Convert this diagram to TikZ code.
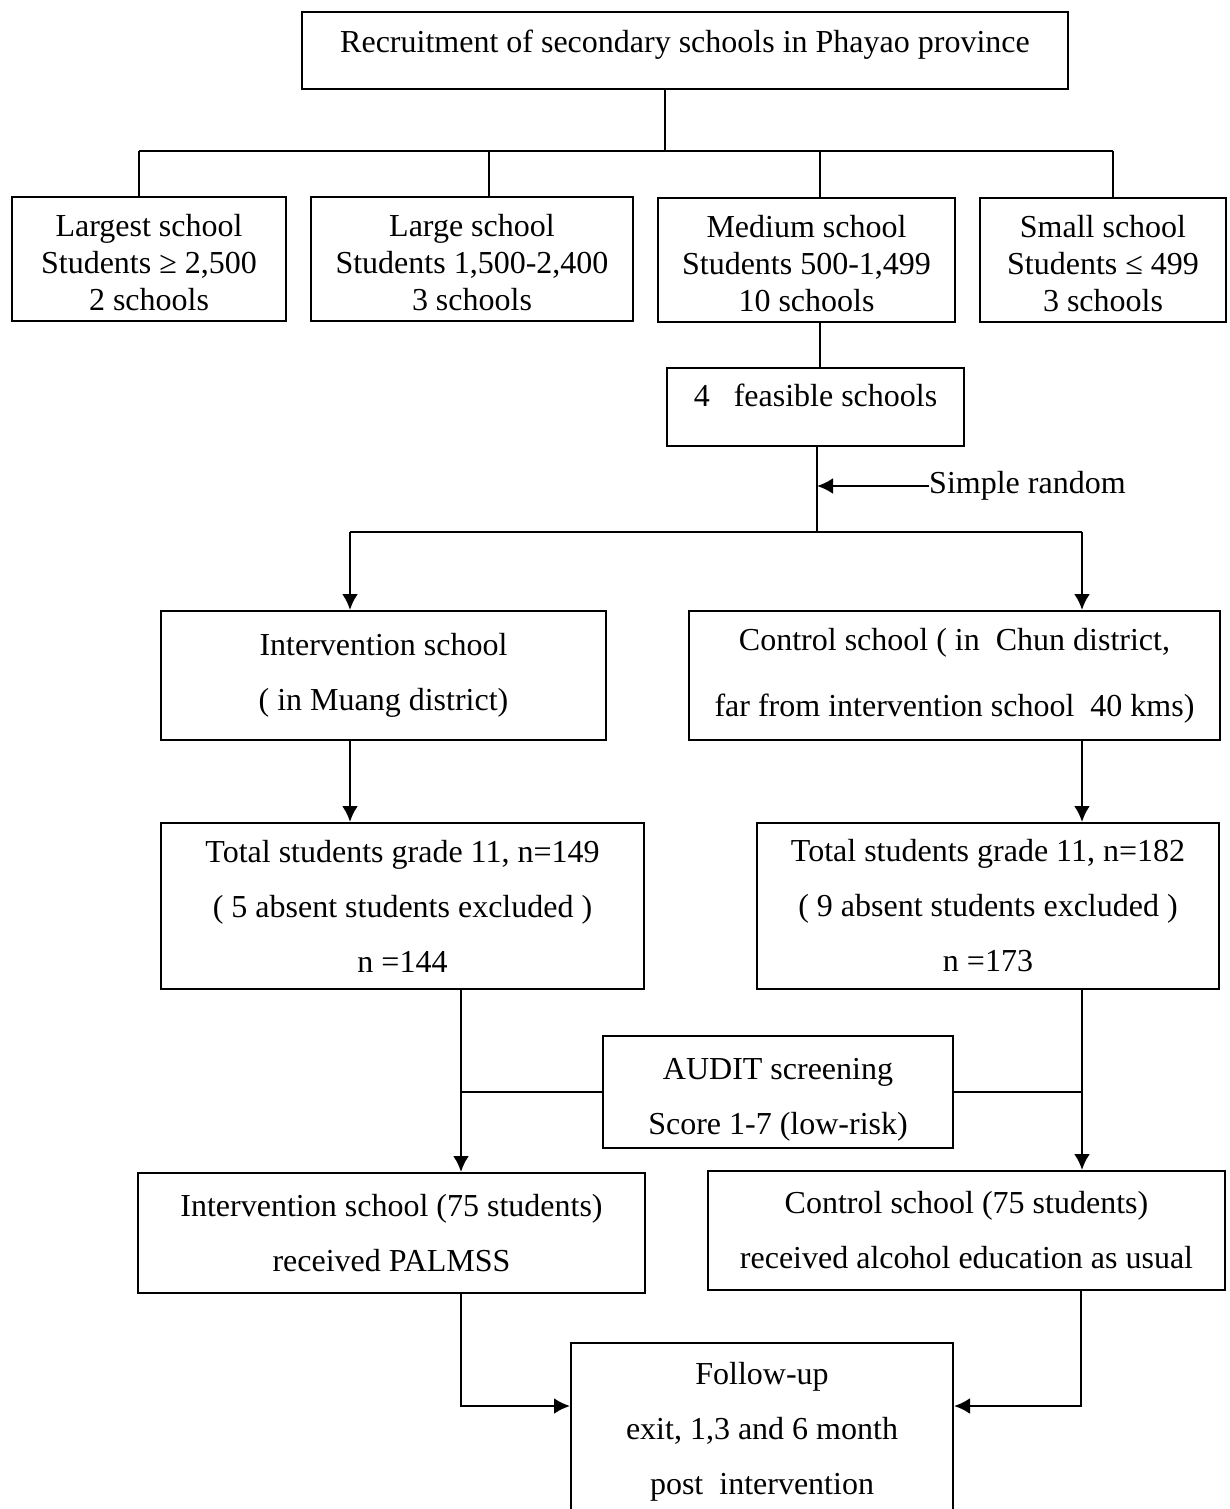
\documentclass[tikz,border=0pt]{standalone}
\usepackage{fontspec}
\setmainfont{Liberation Serif}
\usetikzlibrary{arrows.meta}
\tikzset{
  box/.style={draw,line width=2pt,align=center,inner sep=0pt,
    font=\fontsize{32}{37}\selectfont},
  boxwide/.style={box,font=\fontsize{32}{55}\selectfont},
  link/.style={line width=2.3pt},
  arrow/.style={line width=2.6pt,-{Latex[length=16pt,width=16pt]}},
}

\begin{document}
\begin{tikzpicture}[x=1pt,y=-1pt]

  \useasboundingbox (0,0) rectangle (1229,1509);
  \clip (0,0) rectangle (1229,1509);

  \def\by{151} % branch row
  \def\ry{532} % random split
  \def\fy{1406} % follow-up row

  % boxes
  \node[box,minimum width=766pt,minimum height=77pt,text depth=19pt]
    (recruit) at (685,50.5) {Recruitment of secondary schools in Phayao province};
  \node[box,minimum width=274pt,minimum height=124pt,text height=104pt]
    (largest) at (149,259) {Largest school\\Students ≥ 2,500\\2 schools};
  \node[box,minimum width=322pt,minimum height=124pt,text height=104pt]
    (large) at (472,259) {Large school\\Students 1,500-2,400\\3 schools};
  \node[box,minimum width=297pt,minimum height=124pt,text height=104pt]
    (medium) at (806.5,260) {Medium school\\Students 500-1,499\\10 schools};
  \node[box,minimum width=246pt,minimum height=124pt,text height=104pt]
    (small) at (1103,259.5) {Small school\\Students ≤ 499\\3 schools};
  \node[box,minimum width=297pt,minimum height=78pt,text depth=23pt]
    (feasible) at (815.5,407) {4~~~feasible schools};

  \node[boxwide,minimum width=445pt,minimum height=129pt]
    (inter) at (383.5,675.5) {Intervention school\\( in Muang district)};
  \node[box,font=\fontsize{32}{66}\selectfont,minimum width=531pt,minimum height=129pt]
    (control) at (954.5,675.5) {Control school ( in \ Chun district,\\far from intervention school \ 40 kms)};

  \node[boxwide,minimum width=483pt,minimum height=166pt]
    (totL) at (402.5,906) {Total students grade 11, n=149\\( 5 absent students excluded )\\n =144};
  \node[boxwide,minimum width=462pt,minimum height=166pt]
    (totR) at (988,906) {Total students grade 11, n=182\\( 9 absent students excluded )\\n =173};

  \node[boxwide,minimum width=350pt,minimum height=112pt,text height=91pt]
    (audit) at (778,1092) {AUDIT screening\\Score 1-7 (low-risk)};

  \node[boxwide,minimum width=507pt,minimum height=120pt]
    (botL) at (391.5,1233) {Intervention school (75 students)\\received PALMSS};
  \node[boxwide,minimum width=517pt,minimum height=119pt]
    (botR) at (966.5,1230.5) {Control school (75 students)\\received alcohol education as usual};

  \node[boxwide,minimum width=382pt,minimum height=177pt]
    (follow) at (762,1431.5) {Follow-up\\exit, 1,3 and 6 month\\post \ intervention};

  % tree
  \coordinate (split) at (665,\by);
  \draw[link] (recruit.south -| split) -- (split);
  \draw[link] (139,\by) -- (1113,\by);
  \foreach \n/\x in {largest/139,large/489,medium/820,small/1113}
    \draw[link] (\x,\by) -- (\n.north -| \x,0);
  \draw[link] (medium.south -| 820,0) -- (feasible.north -| 820,0);

  % random split
  \coordinate (pick) at (817,\ry);
  \coordinate (splitL) at (350,\ry);
  \coordinate (splitR) at (1082,\ry);
  \draw[link] (feasible.south -| pick) -- (pick);
  \draw[arrow,-] (splitL) -- (splitR);
  \node[font=\fontsize{32}{37}\selectfont,anchor=west,inner sep=0pt]
    (random) at (929,486) {Simple random};
  \draw[arrow] (random.west) -- (pick |- random.west);

  % arrows
  \draw[arrow] (splitL) -- (splitL |- inter.north);
  \draw[arrow] (splitR) -- (splitR |- control.north);
  \draw[arrow] (inter.south -| splitL) -- (totL.north -| splitL);
  \draw[arrow] (control.south -| splitR) -- (totR.north -| splitR);
  \draw[arrow] (totL.south -| 461,0) -- (botL.north -| 461,0);
  \draw[arrow] (totR.south -| splitR) -- (botR.north -| splitR);
  \draw[link] (audit.west) -- (audit.west -| 461,0);
  \draw[link] (audit.east) -- (audit.east -| splitR);

  % follow-up
  \draw[arrow] (botL.south -| 461,0) -- (461,\fy) -- (follow.west |- 0,\fy);
  \draw[arrow] (botR.south -| 1081,0) -- (1081,\fy) -- (follow.east |- 0,\fy);

\end{tikzpicture}
\end{document}
